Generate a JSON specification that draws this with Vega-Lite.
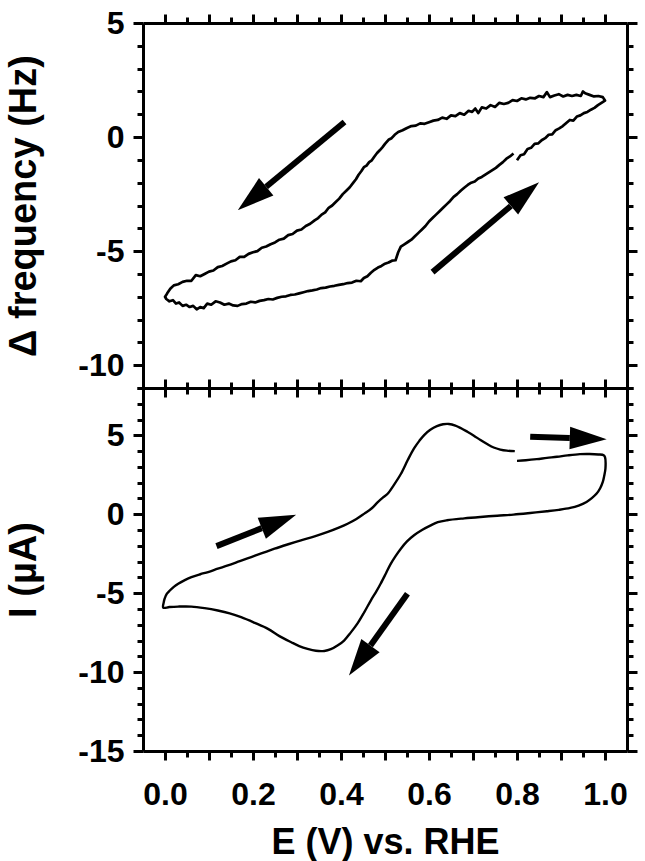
{
  "$schema": "https://vega.github.io/schema/vega-lite/v6.json",
  "padding": {"left": 5, "top": 7, "right": 5, "bottom": 5},
  "bounds": "flush",
  "spacing": 0,
  "config": {
    "view": {"stroke": null},
    "font": "Liberation Sans",
    "axis": {
      "domainColor": "black", "domainWidth": 3, "tickColor": "black", "tickWidth": 3,
      "labelFont": "Liberation Sans", "labelFontWeight": "bold", "labelFontSize": 32, "labelColor": "black",
      "titleFont": "Liberation Sans", "titleFontWeight": "bold", "titleColor": "black",
      "grid": false, "labelFlush": false, "labelOverlap": false
    }
  },
  "datasets": {
    "qcm": [
      {"i":0,"E":0.800,"df":-1.02},{"i":1,"E":0.808,"df":-0.80},{"i":2,"E":0.816,"df":-0.75},{"i":3,"E":0.824,"df":-0.52},{"i":4,"E":0.832,"df":-0.47},{"i":5,"E":0.840,"df":-0.30},{"i":6,"E":0.848,"df":-0.28},{"i":7,"E":0.856,"df":-0.14},{"i":8,"E":0.864,"df":-0.05},{"i":9,"E":0.872,"df":0.10},{"i":10,"E":0.880,"df":0.12},{"i":11,"E":0.888,"df":0.30},{"i":12,"E":0.896,"df":0.38},{"i":13,"E":0.904,"df":0.48},{"i":14,"E":0.912,"df":0.62},{"i":15,"E":0.920,"df":0.75},{"i":16,"E":0.928,"df":0.72},{"i":17,"E":0.936,"df":0.90},{"i":18,"E":0.944,"df":0.95},{"i":19,"E":0.952,"df":1.05},{"i":20,"E":0.960,"df":1.10},{"i":21,"E":0.968,"df":1.20},{"i":22,"E":0.976,"df":1.28},{"i":23,"E":0.984,"df":1.40},{"i":24,"E":0.992,"df":1.50},{"i":25,"E":1.000,"df":1.60},
      {"i":26,"E":0.995,"df":1.75},{"i":27,"E":0.985,"df":1.80},{"i":28,"E":0.975,"df":1.78},{"i":29,"E":0.965,"df":1.85},{"i":30,"E":0.955,"df":1.92},{"i":31,"E":0.950,"df":2.00},{"i":32,"E":0.945,"df":1.80},{"i":33,"E":0.935,"df":1.85},{"i":34,"E":0.925,"df":1.80},{"i":35,"E":0.915,"df":1.85},{"i":36,"E":0.905,"df":1.78},{"i":37,"E":0.895,"df":1.88},{"i":38,"E":0.885,"df":1.82},{"i":39,"E":0.875,"df":1.75},{"i":40,"E":0.868,"df":1.97},{"i":41,"E":0.860,"df":1.75},{"i":42,"E":0.850,"df":1.80},{"i":43,"E":0.841,"df":1.70},{"i":44,"E":0.830,"df":1.72},{"i":45,"E":0.820,"df":1.65},{"i":46,"E":0.810,"df":1.70},{"i":47,"E":0.800,"df":1.58},{"i":48,"E":0.790,"df":1.62},{"i":49,"E":0.780,"df":1.50},{"i":50,"E":0.770,"df":1.45},{"i":51,"E":0.760,"df":1.50},{"i":52,"E":0.750,"df":1.32},{"i":53,"E":0.740,"df":1.40},{"i":54,"E":0.730,"df":1.25},{"i":55,"E":0.720,"df":1.30},{"i":56,"E":0.712,"df":1.05},{"i":57,"E":0.705,"df":1.25},{"i":58,"E":0.698,"df":1.10},{"i":59,"E":0.690,"df":1.15},{"i":60,"E":0.680,"df":0.98},{"i":61,"E":0.670,"df":1.05},{"i":62,"E":0.660,"df":0.92},{"i":63,"E":0.650,"df":0.95},{"i":64,"E":0.640,"df":0.80},{"i":65,"E":0.630,"df":0.85},{"i":66,"E":0.620,"df":0.75},{"i":67,"E":0.610,"df":0.72},{"i":68,"E":0.600,"df":0.65},{"i":69,"E":0.590,"df":0.58},{"i":70,"E":0.580,"df":0.60},{"i":71,"E":0.570,"df":0.50},{"i":72,"E":0.560,"df":0.48},{"i":73,"E":0.550,"df":0.40},{"i":74,"E":0.540,"df":0.30},{"i":75,"E":0.530,"df":0.22},{"i":76,"E":0.522,"df":0.10},{"i":77,"E":0.515,"df":-0.05},{"i":78,"E":0.508,"df":-0.12},{"i":79,"E":0.500,"df":-0.30},{"i":80,"E":0.494,"df":-0.45},{"i":81,"E":0.488,"df":-0.58},{"i":82,"E":0.482,"df":-0.70},{"i":83,"E":0.476,"df":-0.85},{"i":84,"E":0.470,"df":-1.02},{"i":85,"E":0.464,"df":-1.10},{"i":86,"E":0.458,"df":-1.25},{"i":87,"E":0.452,"df":-1.32},{"i":88,"E":0.446,"df":-1.50},{"i":89,"E":0.440,"df":-1.65},{"i":90,"E":0.434,"df":-1.85},{"i":91,"E":0.428,"df":-2.00},{"i":92,"E":0.420,"df":-2.20},{"i":93,"E":0.412,"df":-2.35},{"i":94,"E":0.404,"df":-2.50},{"i":95,"E":0.396,"df":-2.70},{"i":96,"E":0.388,"df":-2.85},{"i":97,"E":0.380,"df":-3.00},{"i":98,"E":0.372,"df":-3.10},{"i":99,"E":0.364,"df":-3.30},{"i":100,"E":0.356,"df":-3.40},{"i":101,"E":0.348,"df":-3.55},{"i":102,"E":0.340,"df":-3.65},{"i":103,"E":0.330,"df":-3.80},{"i":104,"E":0.320,"df":-3.90},{"i":105,"E":0.310,"df":-4.05},{"i":106,"E":0.300,"df":-4.10},{"i":107,"E":0.290,"df":-4.25},{"i":108,"E":0.280,"df":-4.30},{"i":109,"E":0.270,"df":-4.45},{"i":110,"E":0.260,"df":-4.50},{"i":111,"E":0.250,"df":-4.62},{"i":112,"E":0.240,"df":-4.70},{"i":113,"E":0.230,"df":-4.80},{"i":114,"E":0.220,"df":-4.85},{"i":115,"E":0.210,"df":-5.00},{"i":116,"E":0.200,"df":-5.05},{"i":117,"E":0.190,"df":-5.12},{"i":118,"E":0.180,"df":-5.25},{"i":119,"E":0.170,"df":-5.25},{"i":120,"E":0.160,"df":-5.40},{"i":121,"E":0.150,"df":-5.45},{"i":122,"E":0.140,"df":-5.55},{"i":123,"E":0.130,"df":-5.65},{"i":124,"E":0.120,"df":-5.70},{"i":125,"E":0.110,"df":-5.85},{"i":126,"E":0.100,"df":-5.90},{"i":127,"E":0.090,"df":-6.00},{"i":128,"E":0.080,"df":-6.10},{"i":129,"E":0.070,"df":-6.05},{"i":130,"E":0.060,"df":-6.30},{"i":131,"E":0.050,"df":-6.30},{"i":132,"E":0.040,"df":-6.35},{"i":133,"E":0.030,"df":-6.45},{"i":134,"E":0.020,"df":-6.50},{"i":135,"E":0.012,"df":-6.65},{"i":136,"E":0.005,"df":-6.85},{"i":137,"E":0.002,"df":-6.95},{"i":138,"E":0.000,"df":-7.00},
      {"i":139,"E":0.003,"df":-7.10},{"i":140,"E":0.010,"df":-7.20},{"i":141,"E":0.018,"df":-7.15},{"i":142,"E":0.025,"df":-7.30},{"i":143,"E":0.032,"df":-7.25},{"i":144,"E":0.040,"df":-7.40},{"i":145,"E":0.048,"df":-7.35},{"i":146,"E":0.056,"df":-7.45},{"i":147,"E":0.064,"df":-7.40},{"i":148,"E":0.072,"df":-7.55},{"i":149,"E":0.080,"df":-7.45},{"i":150,"E":0.088,"df":-7.50},{"i":151,"E":0.096,"df":-7.30},{"i":152,"E":0.105,"df":-7.35},{"i":153,"E":0.115,"df":-7.20},{"i":154,"E":0.125,"df":-7.25},{"i":155,"E":0.135,"df":-7.35},{"i":156,"E":0.145,"df":-7.30},{"i":157,"E":0.155,"df":-7.38},{"i":158,"E":0.165,"df":-7.40},{"i":159,"E":0.175,"df":-7.32},{"i":160,"E":0.185,"df":-7.30},{"i":161,"E":0.195,"df":-7.22},{"i":162,"E":0.205,"df":-7.25},{"i":163,"E":0.215,"df":-7.18},{"i":164,"E":0.225,"df":-7.15},{"i":165,"E":0.235,"df":-7.10},{"i":166,"E":0.245,"df":-7.12},{"i":167,"E":0.255,"df":-7.05},{"i":168,"E":0.265,"df":-7.00},{"i":169,"E":0.275,"df":-6.98},{"i":170,"E":0.285,"df":-6.92},{"i":171,"E":0.295,"df":-6.90},{"i":172,"E":0.305,"df":-6.85},{"i":173,"E":0.315,"df":-6.80},{"i":174,"E":0.325,"df":-6.75},{"i":175,"E":0.335,"df":-6.72},{"i":176,"E":0.345,"df":-6.68},{"i":177,"E":0.355,"df":-6.62},{"i":178,"E":0.365,"df":-6.60},{"i":179,"E":0.375,"df":-6.55},{"i":180,"E":0.385,"df":-6.52},{"i":181,"E":0.395,"df":-6.48},{"i":182,"E":0.405,"df":-6.45},{"i":183,"E":0.415,"df":-6.40},{"i":184,"E":0.425,"df":-6.38},{"i":185,"E":0.435,"df":-6.30},{"i":186,"E":0.445,"df":-6.32},{"i":187,"E":0.452,"df":-6.18},{"i":188,"E":0.460,"df":-6.10},{"i":189,"E":0.468,"df":-5.95},{"i":190,"E":0.476,"df":-5.82},{"i":191,"E":0.484,"df":-5.72},{"i":192,"E":0.492,"df":-5.65},{"i":193,"E":0.500,"df":-5.55},{"i":194,"E":0.508,"df":-5.50},{"i":195,"E":0.516,"df":-5.42},{"i":196,"E":0.524,"df":-5.40},{"i":197,"E":0.530,"df":-5.05},{"i":198,"E":0.536,"df":-4.80},{"i":199,"E":0.544,"df":-4.70},{"i":200,"E":0.552,"df":-4.60},{"i":201,"E":0.560,"df":-4.50},{"i":202,"E":0.568,"df":-4.35},{"i":203,"E":0.576,"df":-4.20},{"i":204,"E":0.584,"df":-4.05},{"i":205,"E":0.592,"df":-3.90},{"i":206,"E":0.600,"df":-3.70},{"i":207,"E":0.608,"df":-3.55},{"i":208,"E":0.616,"df":-3.40},{"i":209,"E":0.624,"df":-3.25},{"i":210,"E":0.632,"df":-3.10},{"i":211,"E":0.640,"df":-2.95},{"i":212,"E":0.648,"df":-2.80},{"i":213,"E":0.656,"df":-2.62},{"i":214,"E":0.664,"df":-2.50},{"i":215,"E":0.672,"df":-2.35},{"i":216,"E":0.680,"df":-2.22},{"i":217,"E":0.688,"df":-2.10},{"i":218,"E":0.696,"df":-2.00},{"i":219,"E":0.704,"df":-1.95},{"i":220,"E":0.712,"df":-1.82},{"i":221,"E":0.720,"df":-1.75},{"i":222,"E":0.728,"df":-1.65},{"i":223,"E":0.736,"df":-1.55},{"i":224,"E":0.744,"df":-1.45},{"i":225,"E":0.752,"df":-1.35},{"i":226,"E":0.760,"df":-1.22},{"i":227,"E":0.768,"df":-1.10},{"i":228,"E":0.776,"df":-0.95},{"i":229,"E":0.784,"df":-0.85},{"i":230,"E":0.792,"df":-0.72}
    ],
    "cv": [
      {"i":0,"E":0.800,"I":3.38},{"i":1,"E":0.820,"I":3.42},{"i":2,"E":0.845,"I":3.49},{"i":3,"E":0.868,"I":3.57},{"i":4,"E":0.891,"I":3.64},{"i":5,"E":0.915,"I":3.73},{"i":6,"E":0.943,"I":3.81},{"i":7,"E":0.965,"I":3.82},{"i":8,"E":0.985,"I":3.79},{"i":9,"E":0.997,"I":3.74},{"i":10,"E":1.000,"I":3.62},{"i":11,"E":1.001,"I":2.90},{"i":12,"E":0.998,"I":2.40},{"i":13,"E":0.995,"I":2.05},{"i":14,"E":0.989,"I":1.65},{"i":15,"E":0.981,"I":1.31},{"i":16,"E":0.970,"I":1.02},{"i":17,"E":0.958,"I":0.78},{"i":18,"E":0.940,"I":0.55},{"i":19,"E":0.921,"I":0.40},{"i":20,"E":0.895,"I":0.28},{"i":21,"E":0.868,"I":0.19},{"i":22,"E":0.830,"I":0.08},{"i":23,"E":0.792,"I":-0.02},{"i":24,"E":0.755,"I":-0.09},{"i":25,"E":0.717,"I":-0.17},{"i":26,"E":0.680,"I":-0.26},{"i":27,"E":0.641,"I":-0.38},{"i":28,"E":0.620,"I":-0.50},{"i":29,"E":0.604,"I":-0.70},{"i":30,"E":0.585,"I":-0.98},{"i":31,"E":0.566,"I":-1.33},{"i":32,"E":0.550,"I":-1.72},{"i":33,"E":0.536,"I":-2.18},{"i":34,"E":0.524,"I":-2.65},{"i":35,"E":0.513,"I":-3.14},{"i":36,"E":0.502,"I":-3.75},{"i":37,"E":0.490,"I":-4.40},{"i":38,"E":0.480,"I":-4.90},{"i":39,"E":0.468,"I":-5.45},{"i":40,"E":0.453,"I":-6.20},{"i":41,"E":0.438,"I":-6.90},{"i":42,"E":0.422,"I":-7.50},{"i":43,"E":0.407,"I":-8.00},{"i":44,"E":0.392,"I":-8.32},{"i":45,"E":0.377,"I":-8.55},{"i":46,"E":0.362,"I":-8.66},{"i":47,"E":0.343,"I":-8.65},{"i":48,"E":0.324,"I":-8.53},{"i":49,"E":0.305,"I":-8.35},{"i":50,"E":0.287,"I":-8.11},{"i":51,"E":0.260,"I":-7.72},{"i":52,"E":0.234,"I":-7.26},{"i":53,"E":0.204,"I":-6.88},{"i":54,"E":0.173,"I":-6.52},{"i":55,"E":0.147,"I":-6.28},{"i":56,"E":0.120,"I":-6.10},{"i":57,"E":0.090,"I":-5.95},{"i":58,"E":0.060,"I":-5.85},{"i":59,"E":0.030,"I":-5.85},{"i":60,"E":0.010,"I":-5.88},{"i":61,"E":-0.004,"I":-5.92},{"i":62,"E":-0.003,"I":-5.60},{"i":63,"E":-0.001,"I":-5.36},{"i":64,"E":0.004,"I":-5.05},{"i":65,"E":0.011,"I":-4.83},{"i":66,"E":0.020,"I":-4.60},{"i":67,"E":0.030,"I":-4.40},{"i":68,"E":0.045,"I":-4.17},{"i":69,"E":0.060,"I":-3.98},{"i":70,"E":0.080,"I":-3.80},{"i":71,"E":0.098,"I":-3.66},{"i":72,"E":0.120,"I":-3.45},{"i":73,"E":0.143,"I":-3.24},{"i":74,"E":0.170,"I":-2.97},{"i":75,"E":0.196,"I":-2.71},{"i":76,"E":0.222,"I":-2.45},{"i":77,"E":0.249,"I":-2.18},{"i":78,"E":0.280,"I":-1.90},{"i":79,"E":0.309,"I":-1.65},{"i":80,"E":0.340,"I":-1.40},{"i":81,"E":0.370,"I":-1.12},{"i":82,"E":0.395,"I":-0.85},{"i":83,"E":0.415,"I":-0.60},{"i":84,"E":0.435,"I":-0.30},{"i":85,"E":0.453,"I":0.04},{"i":86,"E":0.470,"I":0.38},{"i":87,"E":0.483,"I":0.75},{"i":88,"E":0.495,"I":1.05},{"i":89,"E":0.506,"I":1.30},{"i":90,"E":0.520,"I":1.85},{"i":91,"E":0.536,"I":2.55},{"i":92,"E":0.552,"I":3.45},{"i":93,"E":0.566,"I":4.17},{"i":94,"E":0.578,"I":4.65},{"i":95,"E":0.589,"I":5.02},{"i":96,"E":0.603,"I":5.35},{"i":97,"E":0.618,"I":5.58},{"i":98,"E":0.632,"I":5.70},{"i":99,"E":0.645,"I":5.72},{"i":100,"E":0.660,"I":5.62},{"i":101,"E":0.673,"I":5.45},{"i":102,"E":0.687,"I":5.23},{"i":103,"E":0.702,"I":4.98},{"i":104,"E":0.717,"I":4.70},{"i":105,"E":0.732,"I":4.45},{"i":106,"E":0.747,"I":4.23},{"i":107,"E":0.762,"I":4.10},{"i":108,"E":0.777,"I":4.03},{"i":109,"E":0.795,"I":4.00}
    ],
    "qarr": [
      {"E":0.408,"v":0.66,"E2":0.230,"v2":-2.18,"angle":140.4},
      {"E":0.608,"v":-5.92,"E2":0.786,"v2":-3.02,"angle":-40.1}
    ],
    "carr": [
      {"E":0.117,"v":-2.02,"E2":0.220,"v2":-0.88,"angle":-21.4},
      {"E":0.830,"v":4.91,"E2":0.920,"v2":4.83,"angle":1.7},
      {"E":0.551,"v":-5.04,"E2":0.467,"v2":-8.32,"angle":125.7}
    ]
  },
  "vconcat": [
    {
      "width": 484, "height": 365,
      "resolve": {"axis": {"x": "independent", "y": "independent"}},
      "layer": [
        {
          "data": {"name": "qcm"},
          "mark": {"type": "line", "color": "black", "strokeWidth": 2.7, "strokeJoin": "round"},
          "encoding": {
            "x": {"field": "E", "type": "quantitative", "scale": {"domain": [-0.05, 1.05], "nice": false, "zero": false},
              "axis": {"orient": "bottom", "values": [0,0.05,0.1,0.15,0.2,0.25,0.3,0.35,0.4,0.45,0.5,0.55,0.6,0.65,0.7,0.75,0.8,0.85,0.9,0.95,1.0], "labels": false, "title": null,
                "tickSize": {"condition": {"test": "abs(datum.value*10 - round(datum.value*10)) < 0.001", "value": 9}, "value": 6}}},
            "y": {"field": "df", "type": "quantitative", "scale": {"domain": [-11, 5], "nice": false, "zero": false},
              "axis": {"orient": "left", "values": [-11,-10,-9,-8,-7,-6,-5,-4,-3,-2,-1,0,1,2,3,4,5],
                "labelExpr": "datum.value % 5 === 0 ? (datum.value < 0 ? '-' + abs(datum.value) : '' + datum.value) : ''",
                "labelPadding": 9, "title": "Δ frequency (Hz)", "titleFontSize": 38, "titlePadding": 34,
                "tickSize": {"condition": {"test": "datum.value % 5 === 0", "value": 10}, "value": 6}}},
            "order": {"field": "i", "type": "quantitative"}
          }
        },
        {
          "data": {"name": "qarr"},
          "mark": {"type": "rule", "color": "black", "strokeWidth": 6, "strokeCap": "butt"},
          "encoding": {
            "x": {"field": "E", "type": "quantitative", "scale": {"domain": [-0.05, 1.05], "nice": false, "zero": false},
              "axis": {"orient": "top", "values": [0,0.05,0.1,0.15,0.2,0.25,0.3,0.35,0.4,0.45,0.5,0.55,0.6,0.65,0.7,0.75,0.8,0.85,0.9,0.95,1.0], "labels": false, "title": null,
                "tickSize": {"condition": {"test": "abs(datum.value*10 - round(datum.value*10)) < 0.001", "value": 9}, "value": 6}}},
            "y": {"field": "v", "type": "quantitative", "scale": {"domain": [-11, 5], "nice": false, "zero": false},
              "axis": {"orient": "right", "values": [-11,-10,-9,-8,-7,-6,-5,-4,-3,-2,-1,0,1,2,3,4,5], "labels": false, "title": null,
                "tickSize": {"condition": {"test": "datum.value % 5 === 0", "value": 10}, "value": 6}}},
            "x2": {"field": "E2"},
            "y2": {"field": "v2"}
          }
        },
        {
          "data": {"name": "qarr"},
          "mark": {"type": "point", "shape": "M0,-0.55L1.8,0L0,0.55Z", "filled": true, "size": 1681, "color": "black", "opacity": 1, "strokeWidth": 0},
          "encoding": {
            "x": {"field": "E2", "type": "quantitative", "scale": {"domain": [-0.05, 1.05], "nice": false, "zero": false}, "axis": null},
            "y": {"field": "v2", "type": "quantitative", "scale": {"domain": [-11, 5], "nice": false, "zero": false}, "axis": null},
            "angle": {"field": "angle", "type": "quantitative", "scale": null}
          }
        }
      ]
    },
    {
      "width": 484, "height": 363,
      "resolve": {"axis": {"x": "independent", "y": "independent"}},
      "layer": [
        {
          "data": {"name": "cv"},
          "mark": {"type": "line", "color": "black", "strokeWidth": 2.4, "interpolate": "catmull-rom"},
          "encoding": {
            "x": {"field": "E", "type": "quantitative", "scale": {"domain": [-0.05, 1.05], "nice": false, "zero": false},
              "axis": {"orient": "bottom", "values": [0,0.05,0.1,0.15,0.2,0.25,0.3,0.35,0.4,0.45,0.5,0.55,0.6,0.65,0.7,0.75,0.8,0.85,0.9,0.95,1.0],
                "labelExpr": "abs(datum.value*5 - round(datum.value*5)) < 0.001 ? format(datum.value, '.1f') : ''",
                "labelPadding": 19, "title": "E (V) vs. RHE", "titleFontSize": 36, "titlePadding": 15,
                "tickSize": {"condition": {"test": "abs(datum.value*10 - round(datum.value*10)) < 0.001", "value": 9}, "value": 6}}},
            "y": {"field": "I", "type": "quantitative", "scale": {"domain": [-15, 8], "nice": false, "zero": false},
              "axis": {"orient": "left", "values": [-15,-14,-13,-12,-11,-10,-9,-8,-7,-6,-5,-4,-3,-2,-1,0,1,2,3,4,5,6,7,8],
                "labelExpr": "datum.value % 5 === 0 ? (datum.value < 0 ? '-' + abs(datum.value) : '' + datum.value) : ''",
                "labelPadding": 9, "title": "I (µA)", "titleFontSize": 38, "titlePadding": 34,
                "tickSize": {"condition": {"test": "datum.value % 5 === 0", "value": 10}, "value": 6}}},
            "order": {"field": "i", "type": "quantitative"}
          }
        },
        {
          "data": {"name": "carr"},
          "mark": {"type": "rule", "color": "black", "strokeWidth": 6, "strokeCap": "butt"},
          "encoding": {
            "x": {"field": "E", "type": "quantitative", "scale": {"domain": [-0.05, 1.05], "nice": false, "zero": false},
              "axis": {"orient": "top", "values": [0,0.05,0.1,0.15,0.2,0.25,0.3,0.35,0.4,0.45,0.5,0.55,0.6,0.65,0.7,0.75,0.8,0.85,0.9,0.95,1.0], "labels": false, "title": null,
                "tickSize": {"condition": {"test": "abs(datum.value*10 - round(datum.value*10)) < 0.001", "value": 9}, "value": 6}}},
            "y": {"field": "v", "type": "quantitative", "scale": {"domain": [-15, 8], "nice": false, "zero": false},
              "axis": {"orient": "right", "values": [-15,-14,-13,-12,-11,-10,-9,-8,-7,-6,-5,-4,-3,-2,-1,0,1,2,3,4,5,6,7,8], "labels": false, "title": null,
                "tickSize": {"condition": {"test": "datum.value % 5 === 0", "value": 10}, "value": 6}}},
            "x2": {"field": "E2"},
            "y2": {"field": "v2"}
          }
        },
        {
          "data": {"name": "carr"},
          "mark": {"type": "point", "shape": "M0,-0.55L1.8,0L0,0.55Z", "filled": true, "size": 1681, "color": "black", "opacity": 1, "strokeWidth": 0},
          "encoding": {
            "x": {"field": "E2", "type": "quantitative", "scale": {"domain": [-0.05, 1.05], "nice": false, "zero": false}, "axis": null},
            "y": {"field": "v2", "type": "quantitative", "scale": {"domain": [-15, 8], "nice": false, "zero": false}, "axis": null},
            "angle": {"field": "angle", "type": "quantitative", "scale": null}
          }
        }
      ]
    }
  ]
}
